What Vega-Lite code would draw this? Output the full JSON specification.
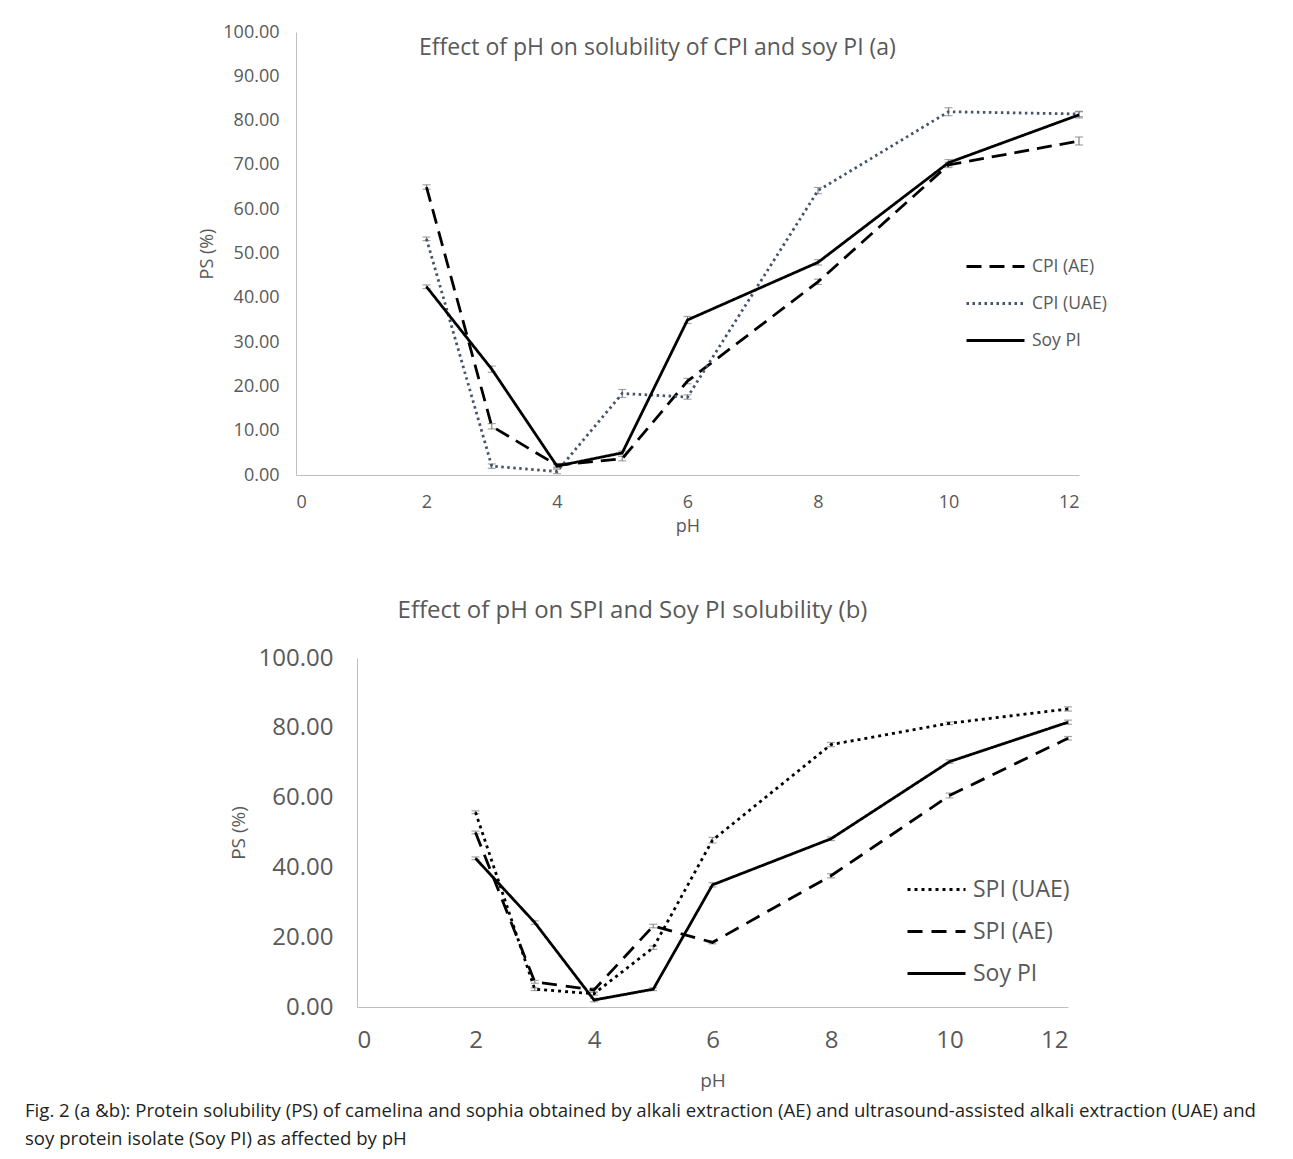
{
  "$schema": "https://vega.github.io/schema/vega-lite/v6.json",
  "background": "white",
  "padding": {"left": 25, "top": 23, "right": 0, "bottom": 0},
  "autosize": {"type": "pad"},
  "config": {
    "font": "Open Sans",
    "view": {"stroke": null},
    "axis": {"grid": false, "ticks": false, "domainColor": "#bfbfbf", "domainWidth": 1, "labelColor": "#595959", "titleColor": "#595959", "titleFontWeight": "normal"},
    "legend": {"title": null, "labelColor": "#595959", "padding": 0}
  },
  "datasets": {
    "a": [
      {"ph": 2, "ps": 65.0, "sd": 0.5, "series": "CPI (AE)"},
      {"ph": 3, "ps": 11.0, "sd": 0.6, "series": "CPI (AE)"},
      {"ph": 4, "ps": 2.2, "sd": 0.4, "series": "CPI (AE)"},
      {"ph": 5, "ps": 3.7, "sd": 0.5, "series": "CPI (AE)"},
      {"ph": 6, "ps": 21.2, "sd": 0.6, "series": "CPI (AE)"},
      {"ph": 8, "ps": 43.6, "sd": 0.6, "series": "CPI (AE)"},
      {"ph": 10, "ps": 70.0, "sd": 0.6, "series": "CPI (AE)"},
      {"ph": 12, "ps": 75.4, "sd": 0.9, "series": "CPI (AE)"},
      {"ph": 2, "ps": 53.3, "sd": 0.4, "series": "CPI (UAE)"},
      {"ph": 3, "ps": 2.0, "sd": 0.5, "series": "CPI (UAE)"},
      {"ph": 4, "ps": 0.8, "sd": 0.5, "series": "CPI (UAE)"},
      {"ph": 5, "ps": 18.4, "sd": 0.9, "series": "CPI (UAE)"},
      {"ph": 6, "ps": 17.6, "sd": 0.5, "series": "CPI (UAE)"},
      {"ph": 8, "ps": 64.2, "sd": 0.7, "series": "CPI (UAE)"},
      {"ph": 10, "ps": 82.0, "sd": 0.9, "series": "CPI (UAE)"},
      {"ph": 12, "ps": 81.5, "sd": 0.6, "series": "CPI (UAE)"},
      {"ph": 2, "ps": 42.5, "sd": 0.4, "series": "Soy PI"},
      {"ph": 3, "ps": 23.9, "sd": 0.7, "series": "Soy PI"},
      {"ph": 4, "ps": 2.0, "sd": 0.4, "series": "Soy PI"},
      {"ph": 5, "ps": 5.0, "sd": 0.4, "series": "Soy PI"},
      {"ph": 6, "ps": 35.0, "sd": 0.8, "series": "Soy PI"},
      {"ph": 8, "ps": 48.0, "sd": 0.6, "series": "Soy PI"},
      {"ph": 10, "ps": 70.5, "sd": 0.7, "series": "Soy PI"},
      {"ph": 12, "ps": 81.3, "sd": 0.7, "series": "Soy PI"}
    ],
    "b": [
      {"ph": 2, "ps": 55.8, "sd": 0.4, "series": "SPI (UAE)"},
      {"ph": 3, "ps": 5.1, "sd": 0.4, "series": "SPI (UAE)"},
      {"ph": 4, "ps": 3.8, "sd": 0.4, "series": "SPI (UAE)"},
      {"ph": 5, "ps": 17.0, "sd": 0.5, "series": "SPI (UAE)"},
      {"ph": 6, "ps": 47.8, "sd": 0.8, "series": "SPI (UAE)"},
      {"ph": 8, "ps": 75.2, "sd": 0.6, "series": "SPI (UAE)"},
      {"ph": 10, "ps": 81.3, "sd": 0.4, "series": "SPI (UAE)"},
      {"ph": 12, "ps": 85.4, "sd": 0.6, "series": "SPI (UAE)"},
      {"ph": 2, "ps": 50.0, "sd": 0.4, "series": "SPI (AE)"},
      {"ph": 3, "ps": 7.2, "sd": 0.4, "series": "SPI (AE)"},
      {"ph": 4, "ps": 4.9, "sd": 0.6, "series": "SPI (AE)"},
      {"ph": 5, "ps": 23.2, "sd": 0.5, "series": "SPI (AE)"},
      {"ph": 6, "ps": 18.5, "sd": 0.4, "series": "SPI (AE)"},
      {"ph": 8, "ps": 37.6, "sd": 0.6, "series": "SPI (AE)"},
      {"ph": 10, "ps": 60.6, "sd": 0.7, "series": "SPI (AE)"},
      {"ph": 12, "ps": 77.0, "sd": 0.5, "series": "SPI (AE)"},
      {"ph": 2, "ps": 42.6, "sd": 0.4, "series": "Soy PI"},
      {"ph": 3, "ps": 24.2, "sd": 0.5, "series": "Soy PI"},
      {"ph": 4, "ps": 2.0, "sd": 0.5, "series": "Soy PI"},
      {"ph": 5, "ps": 5.1, "sd": 0.4, "series": "Soy PI"},
      {"ph": 6, "ps": 35.0, "sd": 0.6, "series": "Soy PI"},
      {"ph": 8, "ps": 48.2, "sd": 0.5, "series": "Soy PI"},
      {"ph": 10, "ps": 70.3, "sd": 0.5, "series": "Soy PI"},
      {"ph": 12, "ps": 81.6, "sd": 0.6, "series": "Soy PI"}
    ],
    "empty": []
  },
  "title": {
    "text": ["Fig. 2 (a &b): Protein solubility (PS) of camelina and sophia obtained by alkali extraction (AE) and ultrasound-assisted alkali extraction (UAE) and", "soy protein isolate (Soy PI) as affected by pH"],
    "orient": "bottom", "anchor": "start", "frame": "bounds", "dx": -172, "offset": 12,
    "fontSize": 18.6, "fontWeight": "normal", "color": "#231f20", "lineHeight": 28
  },
  "resolve": {"scale": {"color": "independent", "strokeDash": "independent"}, "legend": {"color": "independent", "strokeDash": "independent"}},
  "spacing": 63,
  "vconcat": [
    {
      "spacing": 0,
      "hconcat": [
        {"data": {"name": "empty"}, "width": 1, "height": 1, "mark": "point"},
        {
          "width": 783,
          "height": 443,
          "data": {"name": "a"},
          "title": {"text": "Effect of pH on solubility of CPI and soy PI (a)", "fontSize": 23, "fontWeight": "normal", "color": "#595959", "anchor": "middle", "frame": "group", "dx": -30, "offset": -37},
          "layer": [
            {
              "mark": {"type": "errorbar", "ticks": {"size": 8}, "color": "#7f7f7f", "thickness": 1.2},
              "encoding": {
                "x": {"field": "ph", "type": "quantitative", "scale": {"domain": [0, 12], "nice": false}, "title": "pH"},
                "y": {"field": "ps", "type": "quantitative", "scale": {"domain": [0, 100], "nice": false}, "title": "PS (%)"},
                "yError": {"field": "sd"}
              }
            },
            {
              "mark": {"type": "line", "strokeWidth": 2.8},
              "encoding": {
                "x": {"field": "ph", "type": "quantitative", "scale": {"domain": [0, 12], "nice": false}, "title": "pH",
                  "axis": {"values": [0, 2, 4, 6, 8, 10, 12], "format": "d", "labelFontSize": 18, "labelPadding": 18, "titleFontSize": 18, "titlePadding": 6}},
                "y": {"field": "ps", "type": "quantitative", "scale": {"domain": [0, 100], "nice": false}, "title": "PS (%)",
                  "axis": {"values": [0, 10, 20, 30, 40, 50, 60, 70, 80, 90, 100], "format": ".2f", "labelFontSize": 18, "labelPadding": 17, "titleFontSize": 18, "titlePadding": 6}},
                "color": {"field": "series", "type": "nominal",
                  "scale": {"domain": ["CPI (AE)", "CPI (UAE)", "Soy PI"], "range": ["#000000", "#44546a", "#000000"]},
                  "legend": {"orient": "none", "legendX": 806, "legendY": 223, "labelFontSize": 17.5, "symbolType": "M -4.8 0 L 1 0", "symbolSize": 400, "symbolStrokeWidth": 3, "rowPadding": 17, "labelOffset": 6}},
                "strokeDash": {"field": "series", "type": "nominal",
                  "scale": {"domain": ["CPI (AE)", "CPI (UAE)", "Soy PI"], "range": [[15, 8], [2.5, 3.5], [1, 0]]}}
              }
            }
          ]
        }
      ]
    },
    {
      "spacing": 0,
      "hconcat": [
        {"data": {"name": "empty"}, "width": 32, "height": 1, "mark": "point"},
        {
          "width": 711,
          "height": 349,
          "data": {"name": "b"},
          "title": {"text": "Effect of pH on SPI and Soy PI solubility (b)", "fontSize": 24, "fontWeight": "normal", "color": "#595959", "anchor": "middle", "frame": "group", "dx": -80, "offset": 23.5},
          "layer": [
            {
              "mark": {"type": "errorbar", "ticks": {"size": 8}, "color": "#7f7f7f", "thickness": 1.2},
              "encoding": {
                "x": {"field": "ph", "type": "quantitative", "scale": {"domain": [0, 12], "nice": false}, "title": "pH"},
                "y": {"field": "ps", "type": "quantitative", "scale": {"domain": [0, 100], "nice": false}, "title": "PS (%)"},
                "yError": {"field": "sd"}
              }
            },
            {
              "mark": {"type": "line", "strokeWidth": 2.8},
              "encoding": {
                "x": {"field": "ph", "type": "quantitative", "scale": {"domain": [0, 12], "nice": false}, "title": "pH",
                  "axis": {"values": [0, 2, 4, 6, 8, 10, 12], "format": "d", "labelFontSize": 24, "labelPadding": 21, "titleFontSize": 19, "titlePadding": 19}},
                "y": {"field": "ps", "type": "quantitative", "scale": {"domain": [0, 100], "nice": false}, "title": "PS (%)",
                  "axis": {"values": [0, 20, 40, 60, 80, 100], "format": ".2f", "labelFontSize": 24, "labelPadding": 24, "titleFontSize": 19, "titlePadding": 10}},
                "color": {"field": "series", "type": "nominal",
                  "scale": {"domain": ["SPI (UAE)", "SPI (AE)", "Soy PI"], "range": ["#000000", "#000000", "#000000"]},
                  "legend": {"orient": "none", "legendX": 747, "legendY": 220, "labelFontSize": 23, "symbolType": "M -4.8 0 L 1 0", "symbolSize": 400, "symbolStrokeWidth": 3, "rowPadding": 18, "labelOffset": 6}},
                "strokeDash": {"field": "series", "type": "nominal",
                  "scale": {"domain": ["SPI (UAE)", "SPI (AE)", "Soy PI"], "range": [[3, 4], [15, 9], [1, 0]]}}
              }
            }
          ]
        }
      ]
    }
  ]
}
